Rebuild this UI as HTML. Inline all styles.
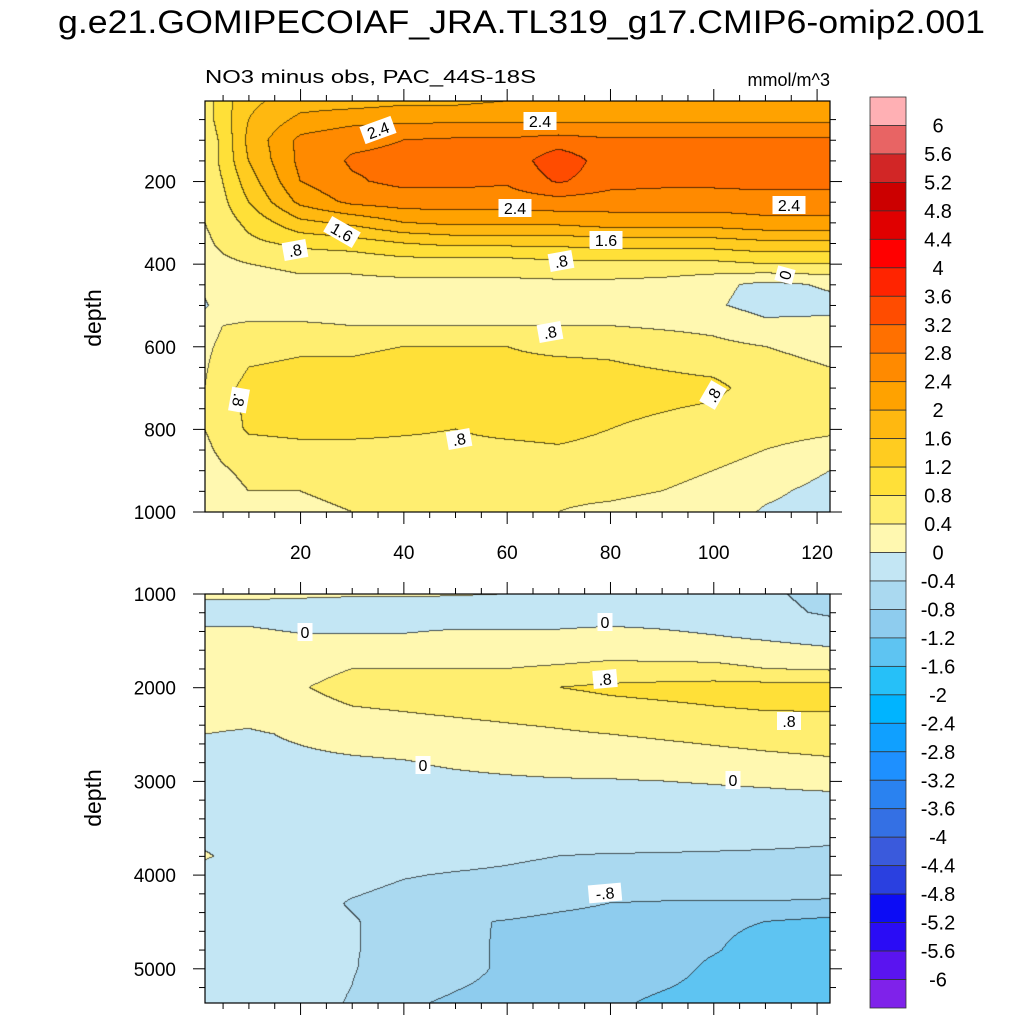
<!DOCTYPE html>
<html><head><meta charset="utf-8">
<style>
html,body{margin:0;padding:0;background:#fff;}
#wrap{position:relative;width:1024px;height:1024px;overflow:hidden;font-family:"Liberation Sans",sans-serif;}
canvas{position:absolute;}
svg{position:absolute;left:0;top:0;}
</style></head>
<body>
<div id="wrap">
<canvas id="cTop" style="left:205px;top:101px" width="625" height="411"></canvas>
<canvas id="cBot" style="left:205px;top:594px" width="625" height="409"></canvas>
<svg id="ov" width="1024" height="1024">
<text x="58" y="33" font-size="32" textLength="927" lengthAdjust="spacingAndGlyphs" font-family="Liberation Sans, sans-serif">g.e21.GOMIPECOIAF_JRA.TL319_g17.CMIP6-omip2.001</text>
<text x="205" y="83" font-size="18" textLength="331" lengthAdjust="spacingAndGlyphs" font-family="Liberation Sans, sans-serif">NO3 minus obs, PAC_44S-18S</text>
<text x="830" y="86" font-size="18" text-anchor="end" font-family="Liberation Sans, sans-serif">mmol/m^3</text>
<text transform="translate(101,318) rotate(-90)" font-size="23" text-anchor="middle" font-family="Liberation Sans, sans-serif">depth</text>
<text transform="translate(101,798) rotate(-90)" font-size="23" text-anchor="middle" font-family="Liberation Sans, sans-serif">depth</text>
<g id="axes"></g>
<g id="labels"></g>
<g id="cbar"></g>
</svg>
</div>
<script>
// ---- data: upper panel (0-1000 m) ----
const topX = [1.5,5,10,20,30,40,50,60,70,80,90,100,110,122.5];
const topD = [5,50,100,150,200,250,300,350,400,450,500,550,600,700,800,850,900,950,1000];
const topV = [
[0.6,1.0,1.5,1.8,1.8,1.9,1.9,2.0,2.0,2.0,2.0,2.0,2.1,2.1],
[0.6,1.0,1.6,2.1,2.25,2.3,2.3,2.3,2.3,2.3,2.3,2.3,2.3,2.3],
[0.5,0.9,1.7,2.5,2.7,2.8,2.85,2.85,2.95,2.85,2.85,2.85,2.85,2.85],
[0.5,0.9,1.6,2.5,2.85,2.9,2.9,2.9,3.5,2.95,2.9,2.9,2.95,2.95],
[0.5,0.8,1.4,2.4,2.75,2.9,2.9,2.85,3.25,2.95,2.9,2.9,2.95,2.95],
[0.4,0.7,1.2,2.1,2.5,2.6,2.6,2.6,2.65,2.6,2.6,2.6,2.6,2.6],
[0.4,0.6,0.9,1.5,1.7,2.0,2.1,2.1,2.1,2.2,2.2,2.2,2.3,2.3],
[0.3,0.5,0.7,0.9,1.0,1.2,1.3,1.3,1.3,1.4,1.4,1.4,1.5,1.5],
[0.2,0.3,0.4,0.5,0.5,0.6,0.6,0.6,0.7,0.7,0.7,0.7,0.8,0.8],
[0.1,0.2,0.2,0.3,0.3,0.3,0.3,0.3,0.3,0.3,0.25,0.1,-0.1,0.05],
[-0.05,0.2,0.2,0.2,0.2,0.2,0.2,0.2,0.2,0.2,0.2,0.05,-0.15,-0.1],
[0.2,0.4,0.45,0.45,0.4,0.4,0.4,0.4,0.4,0.4,0.35,0.3,0.1,0.1],
[0.3,0.5,0.7,0.75,0.75,0.8,0.8,0.8,0.7,0.7,0.6,0.5,0.4,0.3],
[0.4,0.7,0.9,0.95,0.95,1.0,1.0,1.0,1.1,1.0,0.95,0.9,0.6,0.5],
[0.4,0.6,0.85,0.9,0.9,0.85,0.8,0.9,0.95,0.8,0.7,0.6,0.5,0.45],
[0.3,0.5,0.65,0.7,0.7,0.7,0.7,0.7,0.75,0.65,0.55,0.5,0.4,0.3],
[0.2,0.35,0.5,0.5,0.55,0.55,0.55,0.55,0.6,0.55,0.5,0.4,0.3,0.0],
[0.1,0.25,0.4,0.4,0.45,0.45,0.45,0.45,0.45,0.45,0.4,0.3,0.1,-0.15],
[0.1,0.2,0.35,0.35,0.4,0.4,0.4,0.4,0.4,0.35,0.3,0.25,-0.05,-0.2]
];
// ---- data: lower panel (1000-5365 m) ----
const botX = [1.5,10,20,30,40,50,60,70,80,90,100,110,122.5];
const botD = [1000,1200,1500,1800,2000,2200,2500,2800,3000,3500,3800,4000,4300,4500,4800,5000,5365];
const botV = [
[0.05,0.05,0.05,0.03,0.03,0.02,0.0,-0.02,-0.02,-0.03,-0.1,-0.35,-0.5],
[-0.1,-0.1,-0.15,-0.15,-0.15,-0.15,-0.15,-0.15,-0.15,-0.15,-0.2,-0.3,-0.45],
[0.1,0.1,0.05,0.05,0.05,0.1,0.1,0.1,0.15,0.1,0.05,0.0,-0.1],
[0.2,0.2,0.3,0.4,0.4,0.4,0.4,0.45,0.5,0.5,0.5,0.4,0.35],
[0.2,0.2,0.38,0.5,0.6,0.65,0.72,0.8,0.88,0.92,0.95,0.95,0.95],
[0.2,0.2,0.3,0.4,0.45,0.5,0.55,0.6,0.7,0.75,0.8,0.85,0.85],
[0.0,-0.05,0.05,0.15,0.2,0.25,0.3,0.35,0.4,0.45,0.5,0.55,0.6],
[-0.1,-0.1,-0.08,-0.05,-0.02,0.05,0.1,0.15,0.15,0.2,0.25,0.3,0.35],
[-0.15,-0.15,-0.15,-0.12,-0.1,-0.08,-0.05,-0.03,-0.02,0.0,0.02,0.05,0.1],
[-0.2,-0.2,-0.2,-0.2,-0.2,-0.2,-0.2,-0.2,-0.2,-0.25,-0.25,-0.3,-0.35],
[0.05,-0.2,-0.25,-0.25,-0.25,-0.3,-0.35,-0.4,-0.42,-0.42,-0.43,-0.43,-0.43],
[-0.2,-0.2,-0.25,-0.3,-0.38,-0.42,-0.45,-0.5,-0.5,-0.5,-0.5,-0.5,-0.5],
[-0.15,-0.2,-0.3,-0.42,-0.5,-0.55,-0.6,-0.7,-0.8,-0.82,-0.82,-0.82,-0.85],
[-0.1,-0.25,-0.3,-0.38,-0.5,-0.75,-0.82,-0.9,-0.95,-1.0,-1.15,-1.2,-1.3],
[-0.1,-0.25,-0.3,-0.38,-0.5,-0.7,-0.85,-1.0,-1.05,-1.1,-1.18,-1.3,-1.35],
[-0.1,-0.25,-0.3,-0.38,-0.55,-0.7,-0.85,-0.95,-1.05,-1.1,-1.25,-1.35,-1.4],
[-0.1,-0.25,-0.3,-0.42,-0.75,-0.85,-0.9,-1.0,-1.15,-1.25,-1.3,-1.35,-1.4]
];
const cbLabels = ["6","5.6","5.2","4.8","4.4","4","3.6","3.2","2.8","2.4","2","1.6","1.2","0.8","0.4","0","-0.4","-0.8","-1.2","-1.6","-2","-2.4","-2.8","-3.2","-3.6","-4","-4.4","-4.8","-5.2","-5.6","-6"];
const topTicks = [200,400,600,800,1000];
const botTicks = [1000,2000,3000,4000,5000];
const xTicks = [20,40,60,80,100,120];
// colours from lowest (<-6) to highest (>6)
const palette = ["#7F22EA","#5A14F0","#2A0CF5","#0C0CF5","#2A40E0","#3A5ADC","#3470E4","#2A82F0","#1E90FF","#10A0FF","#00B4FF","#26C0F8","#5EC4F2","#8ECCEE","#AAD9F0","#C3E6F4",
"#FFF8B0","#FFEE70","#FFE038","#FFCC20","#FFB810","#FFA200","#FF8A00","#FF7000","#FF4C00","#FF2400","#FF0000","#E00000","#CC0000","#D22626","#E86464","#FFB0B4"];

const XMIN=1.5, XMAX=122.5;
const PL=205, PR=830;
function xpix(x){return PL+(x-XMIN)/(XMAX-XMIN)*(PR-PL);}
function hex(c){return [parseInt(c.substr(1,2),16),parseInt(c.substr(3,2),16),parseInt(c.substr(5,2),16)];}
const palRGB = palette.map(hex);
function level(v){let i=Math.floor((v+6)/0.4)+1; if(i<0)i=0; if(i>31)i=31; return i;}
function seg(arr,v){let i=0; while(i<arr.length-2 && v>arr[i+1]) i++; let t=(v-arr[i])/(arr[i+1]-arr[i]); if(t<0)t=0; if(t>1)t=1; return [i,t];}
function drawField(id,xs,ds,vals,d0,d1){
  const cv=document.getElementById(id), ctx=cv.getContext('2d');
  const W=cv.width,H=cv.height, img=ctx.createImageData(W,H);
  const L=new Int16Array(W*H);
  for(let py=0;py<H;py++){
    const d=d0+(py+0.5)/H*(d1-d0); const [j,ty]=seg(ds,d);
    for(let px=0;px<W;px++){
      const x=XMIN+(px+0.5)/W*(XMAX-XMIN); const [i,tx]=seg(xs,x);
      const v=(1-ty)*((1-tx)*vals[j][i]+tx*vals[j][i+1])+ty*((1-tx)*vals[j+1][i]+tx*vals[j+1][i+1]);
      L[py*W+px]=level(v);
    }
  }
  for(let p=0;p<W*H;p++){
    const px=p%W, py=(p/W)|0; let c=palRGB[L[p]];
    const edge=(px<W-1&&L[p+1]!==L[p])||(py<H-1&&L[p+W]!==L[p]);
    const k=p*4;
    if(edge){img.data[k]=c[0]*0.35;img.data[k+1]=c[1]*0.35;img.data[k+2]=c[2]*0.35;}
    else{img.data[k]=c[0];img.data[k+1]=c[1];img.data[k+2]=c[2];}
    img.data[k+3]=255;
  }
  ctx.putImageData(img,0,0);
}
drawField('cTop',topX,topD,topV,5,1000);
drawField('cBot',botX,botD,botV,1000,5365);

const NS="http://www.w3.org/2000/svg";
function mk(tag,attrs,parent){const e=document.createElementNS(NS,tag);for(const k in attrs)e.setAttribute(k,attrs[k]);parent.appendChild(e);return e;}
const axes=document.getElementById('axes');
function panel(top,bot,d0,d1,yt,minorStep,xlabels,nm){
  const f=mk('rect',{x:PL,y:top,width:PR-PL,height:bot-top,fill:'none',stroke:'#000','stroke-width':1.2},axes);
  
  
  const yp=d=>top+(d-d0)/(d1-d0)*(bot-top);
  for(let d=Math.ceil(d0/minorStep)*minorStep; d<=d1; d+=minorStep){
    const y=yp(d), major=yt.includes(d), len=major?12:6;
    mk('line',{x1:PL-len,x2:PL,y1:y,y2:y,stroke:'#000','stroke-width':1},axes);
    mk('line',{x1:PR,x2:PR+len,y1:y,y2:y,stroke:'#000','stroke-width':1},axes);
  }
  yt.forEach(d=>{const t=mk('text',{x:176,y:yp(d)+7,'font-size':19,'text-anchor':'end','font-family':'Liberation Sans, sans-serif'},axes);t.textContent=d;
    
    });
  for(let x=5;x<=122;x+=5){
    const px=xpix(x), major=xTicks.includes(x), len=major?12:6;
    mk('line',{x1:px,x2:px,y1:top-len,y2:top,stroke:'#000','stroke-width':1},axes);
    mk('line',{x1:px,x2:px,y1:bot,y2:bot+len,stroke:'#000','stroke-width':1},axes);
  }
  if(xlabels) xTicks.forEach(x=>{const t=mk('text',{x:xpix(x),y:bot+47,'font-size':19,'text-anchor':'middle','font-family':'Liberation Sans, sans-serif'},axes);t.textContent=x;
    
    });
}
panel(101,512,5,1000,topTicks,50,true,'top-panel');
panel(594,1003,1000,5365,botTicks,200,false,'bottom-panel');

// contour labels
const lbls=[
["2.4",378,130,-20],["2.4",540,121,0],["2.4",515,208,0],["2.4",789,205,0],["1.6",342,232,30],["1.6",606,240,0],
[".8",295,250,-10],[".8",561,261,-10],["0",785,275,-75],[".8",550,332,-10],[".8",239,400,100],[".8",713,395,-60],[".8",459,439,-10],
["0",305,632,0],["0",605,622,0],[".8",605,679,-5],[".8",789,721,0],["0",423,765,0],["0",733,780,0],["-.8",605,893,-5]];
const lg=document.getElementById('labels');
lbls.forEach(l=>{
  const g=mk('g',{transform:`translate(${l[1]},${l[2]}) rotate(${l[3]})`},lg);
  
  
  const w=l[0].length*9+6;
  mk('rect',{x:-w/2,y:-9,width:w,height:18,fill:'#fff'},g);
  const t=mk('text',{x:0,y:6,'font-size':16,'text-anchor':'middle','font-family':'Liberation Sans, sans-serif'},g);t.textContent=l[0];
});

// colorbar
const cb=document.getElementById('cbar');
const CT=97, CB=1008, CX=870, CW=36, bh=(CB-CT)/32;
for(let k=0;k<32;k++){
  const r=mk('rect',{x:CX,y:CT+k*bh,width:CW,height:bh,fill:palette[31-k],stroke:'#333','stroke-width':0.8},cb);
  
  
}
cbLabels.forEach((s,k)=>{const t=mk('text',{x:938,y:CT+(k+1)*bh+7,'font-size':20,'text-anchor':'middle','font-family':'Liberation Sans, sans-serif'},cb);t.textContent=s;
  
  });
</script>
</body></html>
